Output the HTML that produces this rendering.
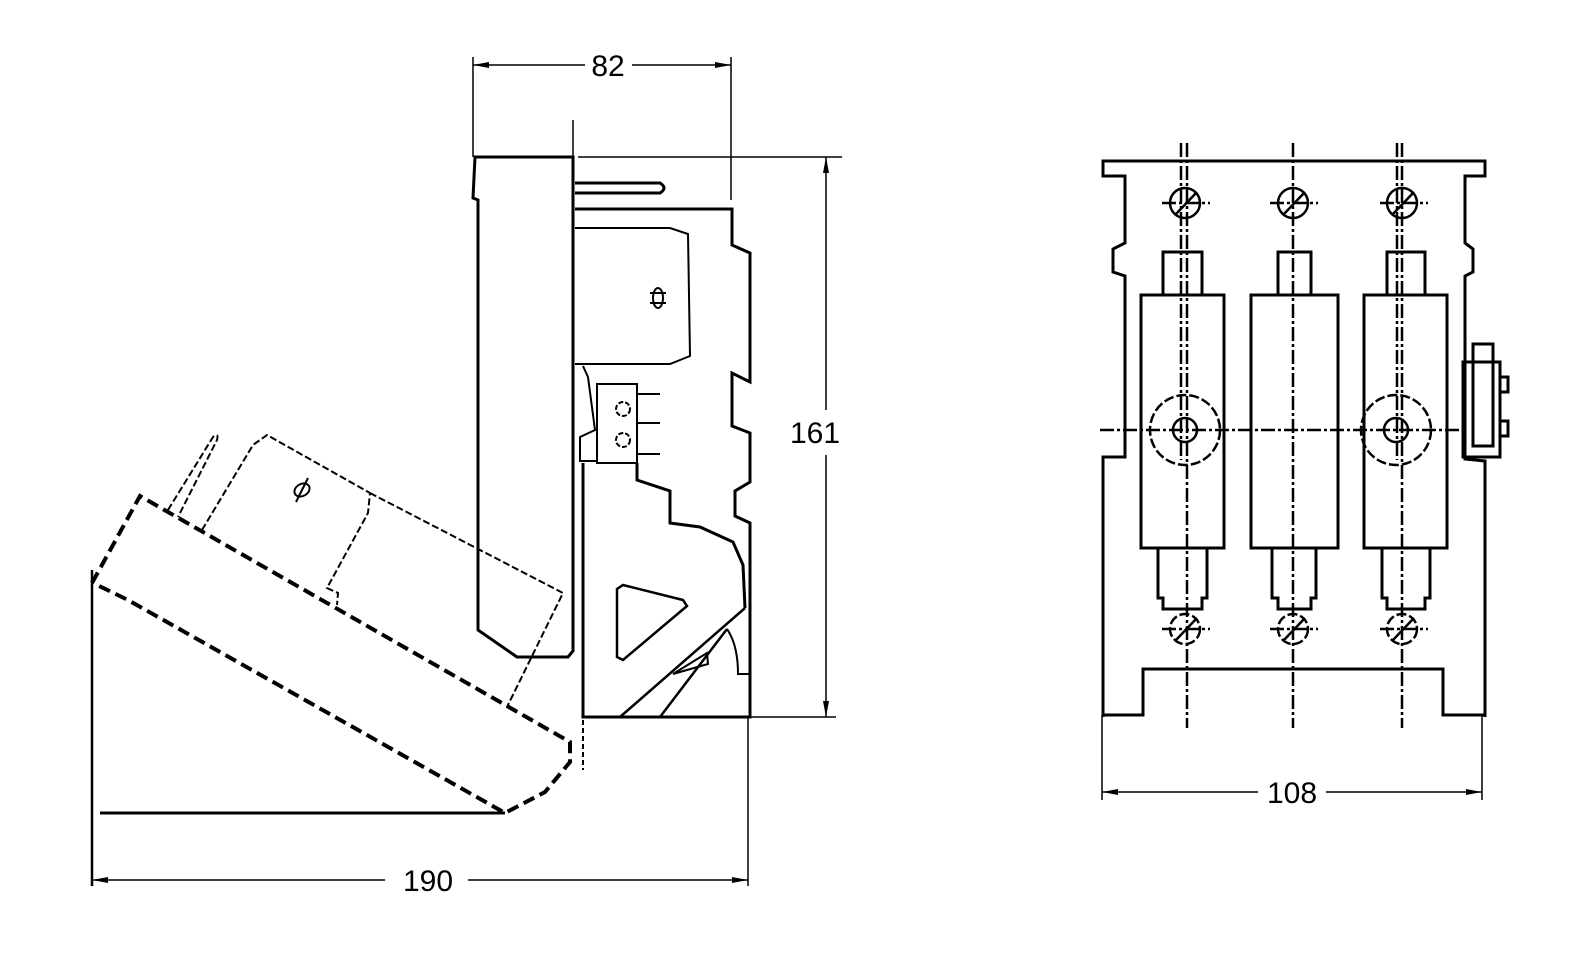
<!DOCTYPE html>
<html><head><meta charset="utf-8"><style>
html,body{margin:0;padding:0;background:#fff;}
svg{display:block;}
text{font-family:"Liberation Sans",Arial,sans-serif;font-size:30px;fill:#000;}
</style></head><body>
<svg width="1571" height="961" viewBox="0 0 1571 961" xmlns="http://www.w3.org/2000/svg">
<defs>
<marker id="ar" markerWidth="16" markerHeight="8" refX="16" refY="4" orient="auto" markerUnits="userSpaceOnUse">
<path d="M0,1 L16,4 L0,7 Z" fill="#000"/></marker>
<marker id="al" markerWidth="16" markerHeight="8" refX="0" refY="4" orient="auto" markerUnits="userSpaceOnUse">
<path d="M16,1 L0,4 L16,7 Z" fill="#000"/></marker>
</defs>
<g fill="none" stroke="#000">
<g stroke-width="1.5">
<line x1="473" y1="57" x2="473" y2="157"/>
<line x1="731" y1="57" x2="731" y2="200"/>
<line x1="473" y1="65" x2="585" y2="65" marker-start="url(#al)"/>
<line x1="632" y1="65" x2="731" y2="65" marker-end="url(#ar)"/>
<line x1="578" y1="157" x2="842" y2="157"/>
<line x1="750" y1="717" x2="836" y2="717"/>
<line x1="826" y1="157" x2="826" y2="410" marker-start="url(#al)"/>
<line x1="826" y1="455" x2="826" y2="717" marker-end="url(#ar)"/>
<line x1="748" y1="717" x2="748" y2="886"/>
<line x1="92" y1="880" x2="385" y2="880" marker-start="url(#al)"/>
<line x1="468" y1="880" x2="748" y2="880" marker-end="url(#ar)"/>
<line x1="1102" y1="715" x2="1102" y2="800"/>
<line x1="1482" y1="715" x2="1482" y2="800"/>
<line x1="1102" y1="792" x2="1258" y2="792" marker-start="url(#al)"/>
<line x1="1326" y1="792" x2="1482" y2="792" marker-end="url(#ar)"/>
<line x1="573" y1="120" x2="573" y2="157"/>
</g>
<line x1="92" y1="570" x2="92" y2="886" stroke-width="2.5"/>
<g stroke-width="3">
<path d="M573,157 L475,157 L473,198 L478,200 L478,630 L517,657 L568,657 L573,651 Z"/>
<path d="M575,183 L660,183 Q668,188 660,193 L575,193"/>
<path d="M575,209 L732,209 L732,245 L750,253 L750,382 L732,373 L732,426 L750,433 L750,482 L735,491 L735,516 L750,523 L750,717 L583,717 L583,463"/>
<path d="M575,228 L670,228 L688,234 L690,356 L670,364 L575,364" stroke-width="2"/>
<rect x="597" y="384" width="40" height="79" stroke-width="2"/>
<path d="M637,394 H660 M637,423 H660 M637,454 H660" stroke-width="2"/>
<path d="M583,366 L588,377 L595,430 L580,437 L580,461 L597,461" stroke-width="2"/>
<path d="M637,463 L637,480 L670,491 L670,523 L700,527 L733,542 L743,565 L745,608" />
<path d="M745,608 L620,717 M727,629 L660,717" stroke-width="2.5"/>
<path d="M727,629 Q738,645 738,674 L750,674" stroke-width="2"/>
<path d="M673,674 L707,653 L708,664 Z" stroke-width="2"/>
<path d="M617,589 L623,585 L683,600 L687,606 L623,660 L617,657 Z" stroke-width="2.5"/>
<ellipse cx="658" cy="298" rx="5" ry="10" stroke-width="2"/>
<path d="M650,293 H666 M650,303 H666" stroke-width="2"/>
<circle cx="623" cy="409" r="7" stroke-width="2" stroke-dasharray="5 2"/>
<circle cx="623" cy="440" r="7" stroke-width="2" stroke-dasharray="5 2"/>
</g>
<line x1="583" y1="720" x2="583" y2="770" stroke-width="2" stroke-dasharray="5 3"/>
<path d="M100,813 L505,813" stroke-width="3"/>
<path d="M92,583 L140,496 L570,742 L570,762 L545,792 L505,813 L128,600 L93,583" stroke-width="4" stroke-dasharray="12 6"/>
<g stroke-width="2" stroke-dasharray="7 3">
<path d="M168,510 L213,437 Q219,432 217,440 L178,517"/>
<path d="M202,530 L253,445 L267,435 L370,493 L368,513 L327,588 L338,593 L337,605"/>
<path d="M370,493 L563,593 L507,707"/>
</g>
<ellipse cx="302" cy="490" rx="8" ry="6" stroke-width="2" transform="rotate(-30 302 490)"/>
<line x1="296" y1="502" x2="308" y2="478" stroke-width="2"/>
<g stroke-width="3">
<path d="M1103,717 L1103,457 L1125,457 L1125,276 L1113,272 L1113,249 L1125,243 L1125,176 L1103,176 L1103,161 L1485,161 L1485,176 L1465,176 L1465,243 L1473,249 L1473,272 L1465,276 L1465,459 L1485,461 L1485,717"/>
<path d="M1103,715 L1143,715 L1143,669 L1443,669 L1443,715 L1485,715"/>
<rect x="1463" y="362" width="37" height="95"/>
<rect x="1473" y="344" width="20" height="102"/>
<rect x="1500" y="377" width="8" height="15"/>
<rect x="1500" y="421" width="8" height="15"/>
<rect x="1141" y="295" width="83" height="253"/>
<rect x="1251" y="295" width="87" height="253"/>
<rect x="1364" y="295" width="83" height="253"/>
<rect x="1163" y="252" width="39" height="43"/>
<rect x="1278" y="252" width="33" height="43"/>
<rect x="1387" y="252" width="38" height="43"/>
<path d="M1158,548 V598 H1163 V609 H1202 V598 H1207 V548"/>
<path d="M1272,548 V598 H1278 V609 H1311 V598 H1316 V548"/>
<path d="M1382,548 V598 H1387 V609 H1425 V598 H1430 V548"/>
</g>
<g stroke-width="2.5">
<circle cx="1185" cy="203" r="15"/><circle cx="1293" cy="203" r="15"/><circle cx="1402" cy="203" r="15"/>
<path d="M1175,215 L1197,192 M1283,215 L1305,192 M1392,215 L1414,192"/>
<g stroke-dasharray="10 3">
<circle cx="1185" cy="629" r="15"/><circle cx="1293" cy="629" r="15"/><circle cx="1402" cy="629" r="15"/>
<circle cx="1185" cy="430" r="35"/><circle cx="1396" cy="430" r="35"/>
</g>
<path d="M1175,641 L1197,618 M1283,641 L1305,618 M1392,641 L1414,618"/>
<circle cx="1185" cy="430" r="12"/><circle cx="1396" cy="430" r="12"/>
</g>
<g stroke-width="2.5" stroke-dasharray="14 3 3 3">
<path d="M1187,143 V728 M1181,143 V460 M1293,143 V728 M1402,143 V728 M1397,143 V460"/>
<path d="M1100,430 H1465"/>
<path d="M1162,203 H1210 M1270,203 H1318 M1380,203 H1428 M1162,629 H1210 M1270,629 H1318 M1380,629 H1428"/>
</g>
</g>
<text x="608" y="76" text-anchor="middle">82</text>
<text x="815" y="443" text-anchor="middle">161</text>
<text x="428" y="891" text-anchor="middle">190</text>
<text x="1292" y="803" text-anchor="middle">108</text>
</svg>
</body></html>
